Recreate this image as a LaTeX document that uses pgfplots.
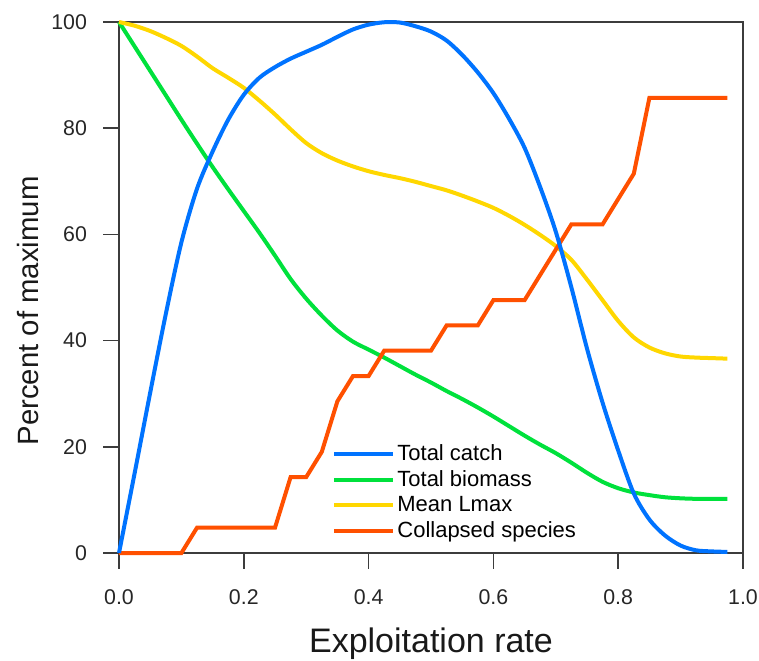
\documentclass[border=0pt]{standalone}
\usepackage{fontspec}
\setmainfont{Liberation Sans}
\usepackage{pgfplots}
\pgfplotsset{compat=1.18}
\definecolor{cCatch}{RGB}{0,115,255}
\definecolor{cBio}{RGB}{0,225,60}
\definecolor{cLmax}{RGB}{255,215,0}
\definecolor{cColl}{RGB}{255,80,0}
\definecolor{axgray}{RGB}{60,60,60}
\begin{document}
\begin{tikzpicture}
\begin{axis}[
  name=ax,
  scale only axis,
  width=468pt, height=398.25pt,
  xmin=0, xmax=1, ymin=0, ymax=100,
  enlargelimits=false,
  clip=false,
  axis line style={axgray, line width=1.1pt},
  xtick={0,0.2,0.4,0.6,0.8,1.0},
  ytick={0,20,40,60,80,100},
  tick align=outside,
  xtick pos=bottom, ytick pos=left,
  major tick length=12pt,
  tick style={axgray, line width=1.1pt},
  /pgf/number format/assume math mode=true,
  xticklabel style={/pgf/number format/.cd, fixed, fixed zerofill, precision=1, /tikz/.cd, font=\fontsize{16}{18}\selectfont, text=black!85, yshift=-12pt},
  yticklabel style={font=\fontsize{16}{18}\selectfont, text=black!85, xshift=-8.5pt},
  xlabel={Exploitation rate},
  ylabel={Percent of maximum},
  xlabel style={font=\fontsize{25.5}{29}\selectfont, text=black!90, at={(axis description cs:0.5,-0.1713)}, anchor=center},
  ylabel style={font=\fontsize{22}{26}\selectfont, text=black!90, at={(axis description cs:-0.1458,0.456)}, anchor=center, rotate=0},
  legend style={draw=none, fill=none, at={(axis description cs:0.341,0.209)}, anchor=north west, font=\fontsize{16.5}{19}\selectfont, row sep=2pt, inner sep=0pt},
  legend cell align=left,
  legend image code/.code={\draw[#1] (0pt,0pt) -- (32pt,0pt); \path (0pt,0pt) -- (44pt,0pt);},
]
\addlegendimage{cCatch, line width=3pt}
\addlegendimage{cBio, line width=3pt}
\addlegendimage{cLmax, line width=3pt}
\addlegendimage{cColl, line width=3pt}

\addplot[cBio, line width=3pt, smooth, tension=0.5, forget plot] coordinates {
(0,100) (0.025,95.4) (0.05,90.8) (0.075,86.2) (0.1,81.6) (0.125,77.1) (0.15,72.7)
(0.175,68.5) (0.2,64.4) (0.225,60.3) (0.25,56.0) (0.275,51.6) (0.3,47.9) (0.325,44.7)
(0.35,41.9) (0.375,39.8) (0.4,38.3) (0.425,36.8) (0.45,35.2) (0.475,33.6) (0.5,32.1)
(0.525,30.5) (0.55,29.0) (0.575,27.4) (0.6,25.7) (0.625,23.9) (0.65,22.1) (0.675,20.4)
(0.7,18.8) (0.725,17.0) (0.75,15.1) (0.775,13.4) (0.8,12.2) (0.825,11.4) (0.85,10.9)
(0.875,10.5) (0.9,10.3) (0.925,10.2) (0.95,10.2) (0.975,10.2)};

\addplot[cLmax, line width=3pt, smooth, tension=0.5, forget plot] coordinates {
(0,100) (0.025,99.3) (0.05,98.3) (0.075,97.0) (0.1,95.5) (0.125,93.5) (0.15,91.3)
(0.175,89.5) (0.2,87.6) (0.225,85.2) (0.25,82.6) (0.275,79.8) (0.3,77.2) (0.325,75.3)
(0.35,73.9) (0.375,72.8) (0.4,71.9) (0.425,71.2) (0.45,70.6) (0.475,69.9) (0.5,69.1)
(0.525,68.3) (0.55,67.3) (0.575,66.2) (0.6,65.0) (0.625,63.5) (0.65,61.8) (0.675,59.9)
(0.7,57.8) (0.725,55.2) (0.75,51.5) (0.775,47.6) (0.8,43.7) (0.825,40.6) (0.85,38.7)
(0.875,37.6) (0.9,37.0) (0.925,36.8) (0.95,36.7) (0.975,36.6)};

\addplot[cColl, line width=3pt, forget plot] coordinates {
(0,0) (0.025,0) (0.05,0) (0.075,0) (0.1,0) (0.125,4.76) (0.15,4.76) (0.175,4.76)
(0.2,4.76) (0.225,4.76) (0.25,4.76) (0.275,14.29) (0.3,14.29) (0.325,19.05) (0.35,28.57)
(0.375,33.33) (0.4,33.33) (0.425,38.10) (0.45,38.10) (0.475,38.10) (0.5,38.10)
(0.525,42.86) (0.55,42.86) (0.575,42.86) (0.6,47.62) (0.625,47.62) (0.65,47.62)
(0.675,52.38) (0.7,57.14) (0.725,61.90) (0.75,61.90) (0.775,61.90) (0.8,66.67)
(0.825,71.43) (0.85,85.71) (0.875,85.71) (0.9,85.71) (0.925,85.71) (0.95,85.71) (0.975,85.71)};

\addplot[cCatch, line width=3pt, smooth, tension=0.5, forget plot] coordinates {
(0,0) (0.025,15.0) (0.05,30.2) (0.075,45.0) (0.1,58.5) (0.125,68.6) (0.15,75.6)
(0.175,81.6) (0.2,86.3) (0.225,89.5) (0.25,91.5) (0.275,93.1) (0.3,94.4) (0.325,95.7)
(0.35,97.2) (0.375,98.6) (0.4,99.5) (0.425,99.95) (0.45,99.9) (0.475,99.2) (0.5,98.2)
(0.525,96.5) (0.55,93.8) (0.575,90.5) (0.6,86.6) (0.625,81.8) (0.65,76.3) (0.675,68.9)
(0.7,60.5) (0.725,50.0) (0.75,38.5) (0.775,28.3) (0.8,19.3) (0.825,11.2) (0.85,6.3)
(0.875,3.3) (0.9,1.4) (0.925,0.5) (0.95,0.3) (0.975,0.2)};

\legend{Total catch, Total biomass, Mean Lmax, Collapsed species}
\coordinate (SW) at (rel axis cs:0,0);
\end{axis}
\pgfresetboundingbox
\path (SW) ++(-89.25pt,-80.25pt) rectangle ++(569.25pt,495pt);
\end{tikzpicture}
\end{document}
